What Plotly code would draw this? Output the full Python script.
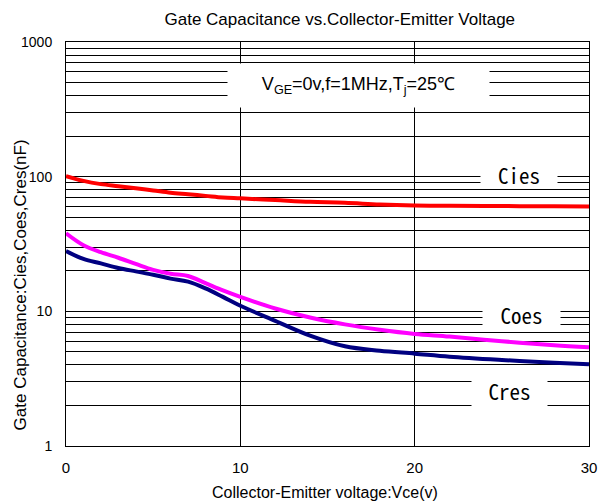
import plotly.graph_objects as go

vce = [0, 1, 2, 3, 4, 5, 6, 7, 8, 9, 10, 12, 14, 16, 18, 20, 22, 25, 28, 30]
cies = [101, 93, 88, 85, 82, 79, 76, 74, 72, 70, 69, 67, 65, 64, 62, 61, 60.8, 60.5, 60.2, 60]
coes = [38, 31, 27.5, 25, 22.5, 20.3, 19, 18.3, 16.2, 14.3, 12.8, 10.5, 9.0, 8.0, 7.3, 6.8, 6.5, 6.0, 5.6, 5.4]
cres = [28, 24.5, 22.7, 21, 19.8, 18.7, 17.5, 16.6, 14.8, 12.8, 11.0, 8.5, 6.6, 5.5, 5.1, 4.85, 4.6, 4.35, 4.15, 4.05]

fig = go.Figure()
fig.add_trace(go.Scatter(x=vce, y=cies, mode="lines", line=dict(color="#ff0000", width=4, shape="spline")))
fig.add_trace(go.Scatter(x=vce, y=coes, mode="lines", line=dict(color="#ff00ff", width=4, shape="spline")))
fig.add_trace(go.Scatter(x=vce, y=cres, mode="lines", line=dict(color="#000080", width=4, shape="spline")))

lab_font = dict(family="Noto Sans Mono CJK JP, Liberation Mono, monospace", size=21, color="black")
fig.add_annotation(x=25.98, y=1.995, xref="x", yref="y", text="Cies", showarrow=False,
                   bgcolor="white", font=lab_font, width=76, height=22, borderpad=0, yshift=2)
fig.add_annotation(x=26.13, y=0.958, xref="x", yref="y", text="Coes", showarrow=False,
                   bgcolor="white", font=lab_font, width=77, height=22, borderpad=0, yshift=2)
fig.add_annotation(x=25.44, y=0.41, xref="x", yref="y", text="Cres", showarrow=False,
                   bgcolor="white", font=lab_font, width=75, height=30, borderpad=0, valign="bottom")
fig.add_annotation(x=16.78, y=2.677, xref="x", yref="y",
                   text="V<sub>GE</sub>=0v,f=1MHz,T<sub>j</sub>=25℃", showarrow=False,
                   bgcolor="white", font=dict(family="Liberation Sans", size=18, color="black"),
                   width=261, height=43, borderpad=0)

# axis titles as annotations for exact placement
fig.add_annotation(x=-0.088, y=0.40, xref="paper", yref="paper", textangle=-90,
                   text="Gate Capacitance:Cies,Coes,Cres(nF)", showarrow=False,
                   xanchor="center", yanchor="middle", font=dict(size=17))
fig.add_annotation(x=0.495, y=-0.114, xref="paper", yref="paper",
                   text="Collector-Emitter voltage:Vce(v)", showarrow=False,
                   xanchor="center", yanchor="middle", font=dict(size=16))

fig.update_layout(
    width=610, height=504,
    margin=dict(l=66, r=21, t=42, b=58),
    paper_bgcolor="white", plot_bgcolor="white",
    showlegend=False,
    font=dict(family="Liberation Sans", size=14, color="black"),
    title=dict(text="Gate Capacitance vs.Collector-Emitter Voltage", x=0.557, xanchor="center",
               y=0.962, yanchor="middle", font=dict(size=17)),
)
fig.update_xaxes(range=[0, 30], dtick=10, showgrid=True, gridcolor="black", gridwidth=1,
                 showline=True, linecolor="black", linewidth=1, mirror=True, zeroline=False,
                 ticks="", ticklabelstandoff=8, tickfont=dict(size=15))
fig.update_yaxes(type="log", range=[0, 3], tickvals=[1, 10, 100, 1000], ticktext=["1", "10", "100", "1000"],
                 showgrid=True, gridcolor="black", gridwidth=1,
                 minor=dict(dtick="D1", showgrid=True, gridcolor="black", gridwidth=1),
                 showline=True, linecolor="black", linewidth=1, mirror=True, zeroline=False,
                 ticks="", ticklabelstandoff=10, tickfont=dict(size=14))

fig.write_html("out.html")
